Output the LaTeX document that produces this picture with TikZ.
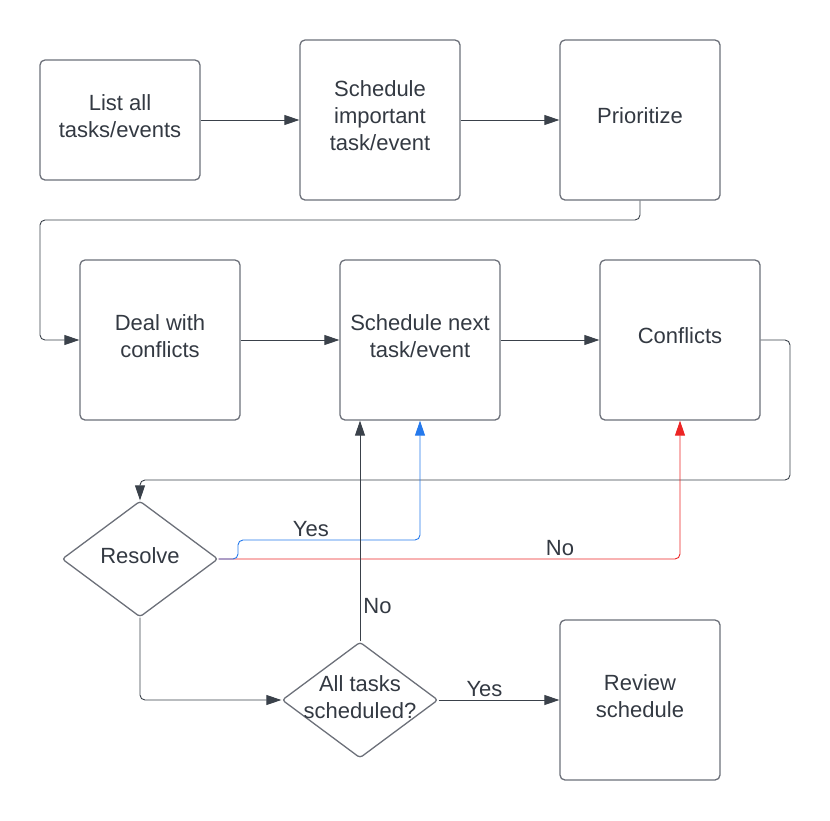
\documentclass[tikz,border=0pt]{standalone}
\usepackage{fontspec}
\setmainfont{Liberation Sans}
\usetikzlibrary{shapes.geometric, arrows.meta}
\definecolor{boxLine}{HTML}{6C7079}
\definecolor{txtGray}{HTML}{333942}
\definecolor{arrowGray}{HTML}{3A414A}
\definecolor{yesBlue}{HTML}{2479EC}
\definecolor{noRed}{HTML}{EC2424}
\begin{document}
\begin{tikzpicture}[x=1pt, y=-1pt, thick,
  every node/.style={text=txtGray, font=\fontsize{22}{27}\selectfont, align=center},
  task/.style={rectangle, draw=boxLine, line width=1.3pt, rounded corners=5pt, minimum width=160pt, minimum height=160pt, text depth=8pt},
  decision/.style={diamond, draw=boxLine, line width=1.3pt, rounded corners=3pt, minimum width=156pt, minimum height=116pt, inner sep=0pt},
  arr/.style={-{Triangle[length=15pt,width=10pt]}, draw=arrowGray, line width=0.9pt, rounded corners=5pt},
  label/.style={inner sep=3pt}]
\useasboundingbox (0,0) rectangle (830,820);
%%%%%%%%%%%%%%%%%%%%%%%%%%%%%%% first row
\node[task, minimum height=120pt](listAll) at (120,120){List all\\tasks/events};
\node[task](important) at (380,120){Schedule\\important\\task/event};
\node[task](prioritize) at (640,120){Prioritize};
\draw[arr] (listAll.east) -- (important.west);
\draw[arr] (important.east) -- (prioritize.west);
%%%%%%%%%%%%%%%%%%%%%%%%%%%%%%% second row
\node[task](dealWith) at (160,340){Deal with\\conflicts};
\node[task](nextTask) at (420,340){Schedule next\\task/event};
\node[task](conflicts) at (680,340){Conflicts};
\draw[arr] (prioritize.south) |- (40,220) |- (dealWith.west);
\draw[arr] (dealWith.east) -- (nextTask.west);
\draw[arr] (nextTask.east) -- (conflicts.west);
%%%%%%%%%%%%%%%%%%%%%%%%%%%%%%% decisions
\node[decision](resolve) at (140,559){};
\node[yshift=3pt](resolveText) at (resolve){Resolve};
\node[decision](allDone) at (360,700){};
\node[yshift=3pt](allDoneText) at (allDone){All tasks\\scheduled?};
\node[task](review) at (640,700){Review\\schedule};
\draw[arr] (conflicts.east) -| (790,480) -| (resolve.north);
\draw[arr, draw=noRed] (resolve.east) -| node[label, pos=0.37, above]{No}(conflicts.south);
\draw[arr, draw=yesBlue] (resolve.east) -- (238,559) |- node[label, pos=0.7, above]{Yes}(420,540) -- (nextTask.south);
\draw[arr] (resolve.south) |- (allDone.west);
\draw[arr] (allDone.north) -- node[label, pos=0.16, right]{No}(allDone.north |- nextTask.south);
\draw[arr] (allDone.east) -- node[label, pos=0.38, above]{Yes}(review.west);
\end{tikzpicture}
\end{document}
